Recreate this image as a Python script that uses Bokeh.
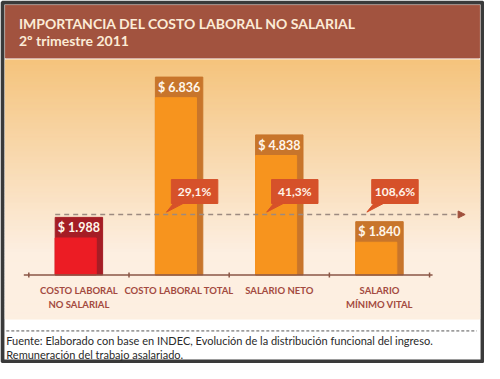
import numpy as np
from bokeh.plotting import figure
from bokeh.models import Range1d, Arrow, NormalHead
from bokeh.core.properties import value
from bokeh.embed import file_html
from bokeh.resources import INLINE

# ---------------- data ----------------
categories = ["Costo laboral\nno salarial", "Costo laboral total", "Salario neto", "Salario\nmínimo vital"]
amounts = [1988, 6836, 4838, 1840]
pct_categories = ["Costo laboral total", "Salario neto", "Salario\nmínimo vital"]
pct_values = [29.1, 41.3, 108.6]
title_line1 = "IMPORTANCIA DEL COSTO LABORAL NO SALARIAL"
title_line2 = "2º trimestre 2011"
source_lines = ["Fuente: Elaborado con base en INDEC, Evolución de la distribución funcional del ingreso.",
                "Remuneración del trabajo asalariado."]

# ---------------- layout (reference-pixel geometry) ----------------
W, H = 484, 363
RX0, RX1 = 0, 500          # reference px shown horizontally
RY0, RY1 = 0, 379          # reference px shown vertically
SLOT = 103.5               # ref px per category
C0 = 81.0                  # ref px of first category center
VPP = 33.1                 # value units per ref px
BASE = 286.5               # ref px of value 0

FONT = value("Lato")

p = figure(width=W, height=H,
           x_range=Range1d((RX0 - C0) / SLOT, (RX1 - C0) / SLOT),
           y_range=Range1d((BASE - RY1) * VPP, (BASE - RY0) * VPP),
           output_backend="svg", toolbar_location=None,
           x_axis_location=None, y_axis_location=None, min_border=0)
p.grid.visible = False
p.background_fill_color = "white"
p.border_fill_color = "white"
p.outline_line_color = None
p.extra_x_ranges = {"px": Range1d(RX0, RX1)}
p.extra_y_ranges = {"px": Range1d(RY1, RY0)}
PX = dict(x_range_name="px", y_range_name="px")

# outer dark frame
p.quad(left=2, right=498, top=2, bottom=377, fill_color=None, line_color="#3a3a3a", line_width=4, **PX)

# header band
p.quad(left=5, right=495, top=5, bottom=60, color="#A2533F", **PX)

# gradient chart background
top_c = np.array([0xF5, 0xC4, 0x7D])
bot_c = np.array([0xFD, 0xEF, 0xE1])
edges = np.linspace(62, 332, 91)
cols = []
for a in edges[:-1]:
    t = min(1.0, (a - 62) / 200.0)
    c = (top_c + (bot_c - top_c) * t).astype(int)
    cols.append("#%02x%02x%02x" % tuple(c))
p.quad(left=5, right=495, top=edges[:-1], bottom=edges[1:] + 0.6, color=cols, **PX)

# footer separator
p.segment(x0=6, x1=492, y0=345, y1=345, line_color="#555555", line_width=1, line_dash="3 2", **PX)

# ---------------- bars ----------------
idx = np.arange(len(categories))
light = ["#EC1C24" if i == 0 else "#F7941E" for i in idx]
dark = ["#A51D25" if i == 0 else "#C8752B" for i in idx]
BOX = 21.5  # label box height, ref px
amt = np.array(amounts, dtype=float)
p.vbar(x=idx, width=49 / SLOT, top=amt, bottom=0, color=dark)
p.vbar(x=idx - 3.3 / SLOT, width=42.4 / SLOT, top=amt - BOX * VPP, bottom=0, color=light)
labels = ["$ " + f"{a:,}".replace(",", ".") for a in amounts]
p.text(x=idx, y=amt - BOX / 2 * VPP, text=labels, text_align="center", text_baseline="middle",
       text_font=FONT, text_font_style="bold", text_font_size="12.5px", text_color="#FFF6EA")

# axis
p.segment(x0=-0.55, x1=len(categories) - 0.47, y0=0, y1=0, line_color="#8A5646", line_width=1.5)
p.scatter(x=np.arange(len(categories) + 1) - 0.5, y=np.zeros(len(categories) + 1), marker="dash",
          angle=np.pi / 2, size=5, line_color="#8A5646", line_width=1.5)
p.text(x=idx, y=297, text=[c.upper() for c in categories], text_align="center", text_baseline="top",
       text_font=FONT, text_font_style="bold", text_font_size="9.5px", text_color="#A34A3F",
       text_line_height=1.25, x_range_name="default", y_range_name="px")

# reference arrow at level of first bar
ref_level = amounts[0] + 3 * VPP
p.add_layout(Arrow(x_start=-49 / 2 / SLOT, y_start=ref_level, x_end=(480 - C0) / SLOT, y_end=ref_level,
                   line_color="#9C8A80", line_width=1.5, line_dash="5 4",
                   end=NormalHead(size=7, fill_color="#A0503C", line_color="#A0503C")))

# callouts
pidx = np.array([categories.index(c) for c in pct_categories], dtype=float)
cx = pidx + 16 / SLOT
cy = np.full(len(pidx), ref_level + 24 * VPP)
BW, BH = 48, 25
p.rect(x=cx, y=cy, width=BW / SLOT, height=BH * VPP, color="#D6512A")
bl = cx - BW / 2 / SLOT
bb = cy - BH / 2 * VPP
xs = [[l + 3 / SLOT, l + 14 / SLOT, l - 5 / SLOT] for l in bl]
ys = [[b + 1 * VPP, b + 1 * VPP, b - 9 * VPP] for b in bb]
p.patches(xs=xs, ys=ys, color="#D6512A")
p.text(x=cx, y=cy, text=[f"{v:.1f}".replace(".", ",") + "%" for v in pct_values],
       text_align="center", text_baseline="middle", text_font=FONT, text_font_style="bold",
       text_font_size="12px", text_color="#FFF3E8")

# titles
p.text(x=[19, 19], y=[24, 42], text=[title_line1, title_line2], text_baseline="middle",
       text_font=FONT, text_font_style="bold", text_font_size="14px", text_color="#FCEBD6", **PX)

# source
p.text(x=[6, 6], y=[355, 370], text=source_lines, text_baseline="middle",
       text_font=FONT, text_font_size="11px", text_color="#2A2A2A", **PX)

open("out.html", "w").write(file_html(p, INLINE))
